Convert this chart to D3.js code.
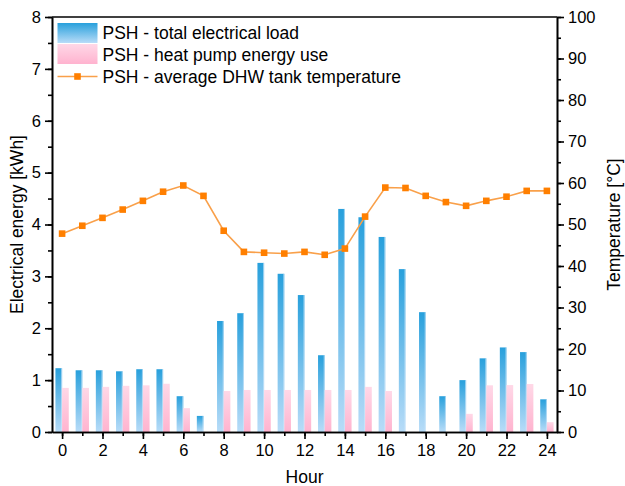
<!DOCTYPE html>
<html>
<head>
<meta charset="utf-8">
<script src="https://cdn.jsdelivr.net/npm/d3@7"></script>
<style>
  html, body { margin: 0; padding: 0; background: #fff; }
  svg { display: block; font-family: "Liberation Sans", Arial, sans-serif; }
</style>
</head>
<body>
<svg id="chart" width="625" height="486"></svg>
<script>
// Hourly profile
const hours = d3.range(0, 25);
const totalLoad = [1.23, 1.19, 1.19, 1.17, 1.21, 1.21, 0.69, 0.31, 2.14, 2.29, 3.26, 3.05, 2.64,
                   1.48, 4.30, 4.14, 3.76, 3.14, 2.31, 0.69, 1.00, 1.42, 1.63, 1.54, 0.63];
const heatPumpUse = [0.85, 0.85, 0.87, 0.89, 0.90, 0.93, 0.46, 0, 0.79, 0.81, 0.81, 0.81, 0.81,
                     0.81, 0.81, 0.87, 0.79, 0, 0, 0, 0.35, 0.90, 0.905, 0.925, 0.19];
const tankTemp = [47.8, 49.7, 51.6, 53.6, 55.7, 57.9, 59.4, 56.9, 48.5, 43.4, 43.2, 43.0, 43.4,
                  42.7, 44.2, 51.9, 58.9, 58.8, 56.9, 55.4, 54.5, 55.7, 56.7, 58.1, 58.1];
const xTickLabels = d3.range(0, 25, 2);
const energyTicks = d3.range(0, 9, 1);
const tempTicks = d3.range(0, 101, 10);
const legendLabels = ["PSH - total electrical load", "PSH - heat pump energy use",
                      "PSH - average DHW tank temperature"];

const svg = d3.select("#chart");
const plotLeft = 52, plotRight = 557, plotTop = 17, plotBottom = 432;
const tickFont = 16.5, titleFont = 17.5;

const x = d3.scaleLinear().domain([-0.5, 24.5]).range([plotLeft, plotRight]);
const yE = d3.scaleLinear().domain([0, 8]).range([plotBottom, plotTop]);
const yT = d3.scaleLinear().domain([0, 100]).range([plotBottom, plotTop]);

const defs = svg.append("defs");
function vGrad(id, c1, c2) {
  const g = defs.append("linearGradient").attr("id", id)
    .attr("x1", 0).attr("y1", 0).attr("x2", 0).attr("y2", 1);
  g.append("stop").attr("offset", "0%").attr("stop-color", c1);
  g.append("stop").attr("offset", "100%").attr("stop-color", c2);
}
vGrad("gBlue", "#28a0dc", "#b8dcf8");
vGrad("gPink", "#ffd8e7", "#ffb3cf");

const barW = 0.33;
const bw = x(barW) - x(0);

// Total electrical load bars (left of each hour)
svg.append("g").selectAll("rect").data(hours.filter(h => totalLoad[h] > 0)).join("rect")
  .attr("x", h => x(h - barW))
  .attr("y", h => yE(totalLoad[h]))
  .attr("width", bw)
  .attr("height", h => yE(0) - yE(totalLoad[h]))
  .attr("fill", "url(#gBlue)");
svg.append("g").selectAll("line").data(hours.filter(h => totalLoad[h] > 0)).join("line")
  .attr("x1", h => x(h) - 0.5).attr("x2", h => x(h) - 0.5)
  .attr("y1", h => yE(totalLoad[h])).attr("y2", yE(0))
  .attr("stroke", "#cfe8fb").attr("stroke-width", 1).attr("opacity", 0.7);

// Heat pump energy bars (right of each hour)
svg.append("g").selectAll("rect").data(hours.filter(h => heatPumpUse[h] > 0)).join("rect")
  .attr("x", h => x(h))
  .attr("y", h => yE(heatPumpUse[h]))
  .attr("width", bw)
  .attr("height", h => yE(0) - yE(heatPumpUse[h]))
  .attr("fill", "url(#gPink)");

// Tank temperature line
const line = d3.line().x((d, i) => x(hours[i])).y(d => yT(d));
svg.append("path").datum(tankTemp)
  .attr("d", line).attr("fill", "none")
  .attr("stroke", "#f9a04a").attr("stroke-width", 1.6);
svg.append("g").selectAll("rect").data(tankTemp).join("rect")
  .attr("x", (d, i) => x(hours[i]) - 3.3)
  .attr("y", d => yT(d) - 3.3)
  .attr("width", 6.6).attr("height", 6.6)
  .attr("fill", "#ff7f00");

// Axes
const axisStyle = g => {
  g.selectAll(".domain").attr("stroke", "#000").attr("stroke-width", 1.6);
  g.selectAll(".tick line").attr("stroke", "#000").attr("stroke-width", 1.6);
  g.selectAll("text").attr("font-size", tickFont).attr("fill", "#000")
    .attr("font-family", "'Liberation Sans', Arial, sans-serif");
};

// x axis: minor ticks every hour, labels every two hours
svg.append("g").attr("transform", `translate(0,${plotBottom})`)
  .call(d3.axisBottom(x).tickValues(hours).tickSize(4).tickFormat("").tickSizeOuter(0))
  .call(axisStyle);
svg.append("g").attr("transform", `translate(0,${plotBottom})`)
  .call(d3.axisBottom(x).tickValues(xTickLabels).tickSize(7).tickPadding(5).tickFormat(d3.format("d")).tickSizeOuter(0))
  .call(axisStyle);

// left energy axis
svg.append("g").attr("transform", `translate(${plotLeft},0)`)
  .call(d3.axisLeft(yE).tickValues(d3.range(0, 8.01, 0.5)).tickSize(4).tickFormat("").tickSizeOuter(0))
  .call(axisStyle);
svg.append("g").attr("transform", `translate(${plotLeft},0)`)
  .call(d3.axisLeft(yE).tickValues(energyTicks).tickSize(7).tickPadding(4).tickFormat(d3.format("d")).tickSizeOuter(0))
  .call(axisStyle);

// right temperature axis
svg.append("g").attr("transform", `translate(${plotRight},0)`)
  .call(d3.axisRight(yT).tickValues(d3.range(0, 101, 5)).tickSize(4).tickFormat("").tickSizeOuter(0))
  .call(axisStyle);
svg.append("g").attr("transform", `translate(${plotRight},0)`)
  .call(d3.axisRight(yT).tickValues(tempTicks).tickSize(7).tickPadding(4).tickFormat(d3.format("d")).tickSizeOuter(0))
  .call(axisStyle);

// top frame
svg.append("line").attr("x1", plotLeft).attr("x2", plotRight).attr("y1", plotTop).attr("y2", plotTop)
  .attr("stroke", "#000").attr("stroke-width", 1.6);

// Axis titles
svg.append("text").attr("x", (plotLeft + plotRight) / 2).attr("y", 483)
  .attr("text-anchor", "middle").attr("font-size", titleFont).text("Hour");
svg.append("text").attr("transform", `translate(23,${(plotTop + plotBottom) / 2}) rotate(-90)`)
  .attr("text-anchor", "middle").attr("font-size", titleFont).text("Electrical energy [kWh]");
svg.append("text").attr("transform", `translate(620,${(plotTop + plotBottom) / 2}) rotate(-90)`)
  .attr("text-anchor", "middle").attr("font-size", titleFont).text("Temperature [°C]");

// Legend
const lg = svg.append("g");
lg.append("rect").attr("x", 57.5).attr("y", 23).attr("width", 40).attr("height", 20).attr("fill", "url(#gBlue)");
lg.append("rect").attr("x", 57.5).attr("y", 44).attr("width", 40).attr("height", 20).attr("fill", "url(#gPink)");
lg.append("line").attr("x1", 57.5).attr("x2", 97.5).attr("y1", 76.5).attr("y2", 76.5)
  .attr("stroke", "#f9a04a").attr("stroke-width", 1.6);
lg.append("rect").attr("x", 74.2).attr("y", 73.2).attr("width", 6.6).attr("height", 6.6).attr("fill", "#ff7f00");
lg.selectAll("text").data(legendLabels).join("text")
  .attr("x", 102.5).attr("y", (d, i) => 38.5 + i * 22)
  .attr("font-size", titleFont).text(d => d);
</script>
</body>
</html>
